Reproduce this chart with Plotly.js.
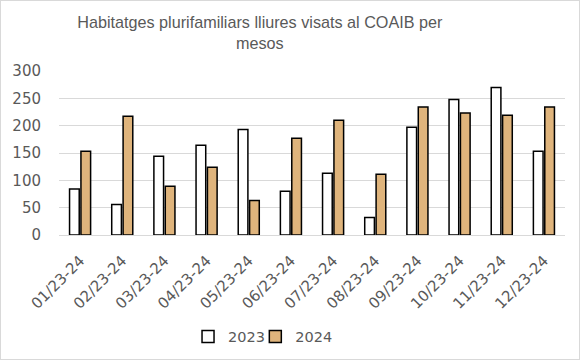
<!DOCTYPE html>
<html>
<head>
<meta charset="utf-8">
<script src="https://cdn.plot.ly/plotly-3.0.1.min.js"></script>
<style>
  html, body { margin: 0; padding: 0; background: #fff; }
  #wrap { position: relative; width: 580px; height: 360px; }
  #chart { width: 580px; height: 360px; }
  #frame { position: absolute; left: 0; top: 0; width: 578px; height: 358px; border: 1px solid #d9d9d9; pointer-events: none; }
</style>
</head>
<body>
<div id="wrap"><div id="chart"></div><div id="frame"></div></div>
<script>
const categories = ["01/23-24","02/23-24","03/23-24","04/23-24","05/23-24","06/23-24","07/23-24","08/23-24","09/23-24","10/23-24","11/23-24","12/23-24"];
const values2023 = [84, 56, 144, 164, 193, 80, 113, 32, 197, 248, 270, 153];
const values2024 = [153, 217, 89, 124, 63, 177, 210, 111, 234, 223, 219, 234];
const yTicks = [0, 50, 100, 150, 200, 250, 300];

const fontTick = "DejaVu Sans, sans-serif";
const textColor = "#595959";

const traces = [
  { type: "bar", name: "2023", x: categories, y: values2023, legend: "legend",
    marker: { color: "#ffffff", line: { color: "#000000", width: 1.5 } } },
  { type: "bar", name: "2024", x: categories, y: values2024, legend: "legend2",
    marker: { color: "#dfb47c", line: { color: "#000000", width: 1.5 } } }
];

const legendFont = { family: fontTick, size: 14.5, color: textColor };

const layout = {
  width: 580, height: 360,
  margin: { l: 59, r: 15, t: 71, b: 125, autoexpand: false },
  paper_bgcolor: "#ffffff", plot_bgcolor: "#ffffff",
  title: {
    text: "Habitatges plurifamiliars lliures visats al COAIB per<br>mesos",
    font: { family: "Liberation Sans, sans-serif", size: 16.2, color: textColor },
    x: 0.448, xanchor: "center", y: 0.922, yanchor: "middle", yref: "container", xref: "container"
  },
  barmode: "group",
  bargap: 0.46,
  bargroupgap: 0.15,
  showlegend: true,
  legend: {
    orientation: "h", x: 0.255, xanchor: "left", y: -0.62, yanchor: "middle",
    font: legendFont, itemwidth: 30, bgcolor: "rgba(0,0,0,0)"
  },
  legend2: {
    orientation: "h", x: 0.388, xanchor: "left", y: -0.62, yanchor: "middle",
    font: legendFont, itemwidth: 30, bgcolor: "rgba(0,0,0,0)"
  },
  xaxis: {
    type: "category",
    automargin: false,
    tickangle: -45,
    tickfont: { family: fontTick, size: 15, color: textColor },
    showline: true, linecolor: "#d9d9d9", linewidth: 1,
    ticks: "", showgrid: false,
    ticklabelstandoff: 10
  },
  yaxis: {
    automargin: false,
    range: [0, 300],
    tickvals: yTicks,
    tickfont: { family: fontTick, size: 15, color: textColor },
    showgrid: true, gridcolor: "#d9d9d9", gridwidth: 1,
    zeroline: false, showline: false, ticks: "",
    ticklabelstandoff: 17
  }
};

Plotly.newPlot("chart", traces, layout, { displayModeBar: false, staticPlot: true });
</script>
</body>
</html>
